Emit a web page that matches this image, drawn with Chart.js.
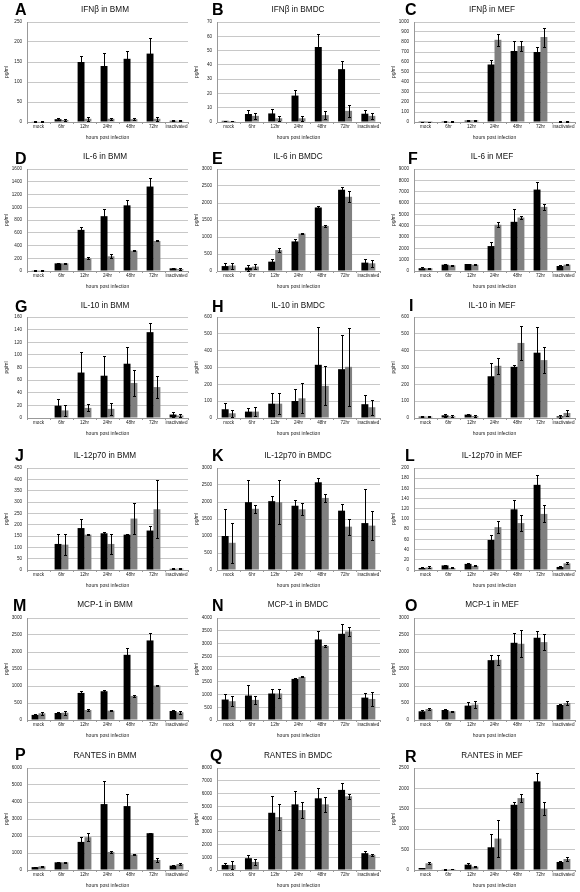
<!DOCTYPE html>
<html><head><meta charset="utf-8">
<script src="https://cdn.jsdelivr.net/npm/chart.js@4.4.0/dist/chart.umd.min.js"></script>
<style>
html,body{margin:0;padding:0;background:#fff;}
body{width:580px;height:892px;position:relative;overflow:hidden;font-family:"Liberation Sans",Arial,sans-serif;}
canvas{position:absolute;}
.letter{position:absolute;font-weight:bold;font-size:16px;line-height:16px;color:#000;}
.ttl{position:absolute;font-size:8.2px;line-height:8.2px;color:#111;transform:translateX(-50%);white-space:nowrap;}
</style></head><body>
<script>
const categories = ['mock','6hr','12hr','24hr','48hr','72hr','inactivated'];
const letters = ['A','B','C','D','E','F','G','H','I','J','K','L','M','N','O','P','Q','R'];
const titles = ['IFNβ in BMM','IFNβ in BMDC','IFNβ in MEF','IL-6 in BMM','IL-6 in BMDC','IL-6 in MEF',
  'IL-10 in BMM','IL-10 in BMDC','IL-10 in MEF','IL-12p70 in BMM','IL-12p70 in BMDC','IL-12p70 in MEF',
  'MCP-1 in BMM','MCP-1 in BMDC','MCP-1 in MEF','RANTES in BMM','RANTES in BMDC','RANTES in MEF'];
const yMax  = [250,70,1000, 1600,3000,9000, 160,600,600, 450,3000,200, 3000,4000,3000, 6000,8000,2500];
const yStep = [50,10,100, 200,500,1000, 20,100,100, 50,500,20, 500,500,500, 1000,1000,500];

const A_black=[1,7,150,140,158,171,3], A_blackErr=[0.5,2,15,33,20,40,1];
const A_gray=[1.5,5,8,8,7,8,3], A_grayErr=[0.3,2,5,2,2,5,1];
const B_black=[0.8,5.6,6,18.5,52.5,37,5.8], B_blackErr=[0.2,2.8,3,4,9,5.5,2.7];
const B_gray=[0.7,4.3,2.6,2.6,4.8,7.8,4.3], B_grayErr=[0.2,2,1.7,1.7,3,4.3,2];
const C_black=[2,8,14,575,710,700,5], C_blackErr=[1,3,4,45,100,55,2];
const C_gray=[1,6,16,822,760,850,7], C_grayErr=[1,3,5,60,45,95,3];
const D_black=[5,120,645,860,1030,1325,42], D_blackErr=[3,10,50,105,90,130,5];
const D_gray=[12,120,199,230,319,471,30], D_grayErr=[5,10,15,30,10,8,15];
const E_black=[145,100,275,870,1868,2390,246], E_blackErr=[90,90,80,80,50,90,120];
const E_gray=[160,130,615,1100,1327,2183,226], E_grayErr=[90,80,70,25,20,160,100];
const F_black=[250,560,620,2200,4340,7185,440], F_blackErr=[60,50,30,350,1100,700,50];
const F_gray=[240,500,560,4080,4720,5660,560], F_grayErr=[60,50,30,200,175,260,60];
const G_black=[0,19.5,72,67,86,136,5.5], G_blackErr=[0,11,32,32,27,14,4];
const G_gray=[0,12,16,14.5,55.5,49,4], G_grayErr=[0,9,5.5,10,20,18,3];
const H_black=[52,38,85,101,316,290,82], H_blackErr=[35,24,66,70,223,205,54];
const H_gray=[28,38,85,117,191,304,64], H_grayErr=[20,28,62,90,115,230,44];
const I_black=[8,16,20,248,304,388,10], I_blackErr=[4,8,5,78,10,152,8];
const I_gray=[8,10,12,310,446,344,30], I_grayErr=[5,5,4,46,100,76,20];
const J_black=[0,115,185,162,156,174,5], J_blackErr=[0,44,38,4,2,19,2];
const J_gray=[0,112,156,115,227,268,6], J_grayErr=[0,47,2,44,68,129,2];
const K_black=[1000,1995,2025,1890,2580,1745,1380], K_blackErr=[780,660,137,176,118,186,1000];
const K_gray=[800,1800,1995,1785,2120,1275,1305], K_grayErr=[595,117,650,176,118,235,430];
const L_black=[4,9,12,59,119,167,6], L_blackErr=[1,1.5,1,10.5,18,18.5,1];
const L_gray=[5,4,8,84,92,110,13], L_grayErr=[2,1,1,12,16,16.5,2];
const M_black=[150,206,796,846,1917,2340,265], M_blackErr=[40,20,50,50,200,225,20];
const M_gray=[197,216,295,275,708,1013,226], M_grayErr=[50,60,30,20,30,20,40];
const N_black=[803,960,1039,1612,3158,3381,878], N_blackErr=[223,408,158,30,315,367,170];
const N_gray=[737,789,1039,1690,2909,3473,826], N_grayErr=[197,158,158,20,50,170,262];
const O_black=[256,295,423,1760,2271,2419,442], O_blackErr=[30,20,108,148,295,206,40];
const O_gray=[324,256,452,1770,2242,2291,501], O_grayErr=[30,20,99,148,400,236,50];
const P_black=[170,452,1653,3878,3760,2165,256], P_blackErr=[30,30,315,1360,709,30,30];
const P_gray=[216,452,1929,1063,906,591,354], P_grayErr=[40,30,236,50,40,100,60];
const Q_black=[396,924,4488,5148,5623,6283,1320], Q_blackErr=[185,237,1320,1056,818,528,158];
const Q_gray=[396,634,4145,4699,5148,5782,1188], Q_grayErr=[290,264,1000,634,581,211,100];
const R_black=[49,16,131,557,1598,2172,197], R_blackErr=[10,5,49,320,66,205,30];
const R_gray=[164,25,82,770,1762,1500,270], R_grayErr=[25,10,20,450,107,164,40];

const seriesBlack=[A_black,B_black,C_black,D_black,E_black,F_black,G_black,H_black,I_black,J_black,K_black,L_black,M_black,N_black,O_black,P_black,Q_black,R_black];
const seriesBlackErr=[A_blackErr,B_blackErr,C_blackErr,D_blackErr,E_blackErr,F_blackErr,G_blackErr,H_blackErr,I_blackErr,J_blackErr,K_blackErr,L_blackErr,M_blackErr,N_blackErr,O_blackErr,P_blackErr,Q_blackErr,R_blackErr];
const seriesGray=[A_gray,B_gray,C_gray,D_gray,E_gray,F_gray,G_gray,H_gray,I_gray,J_gray,K_gray,L_gray,M_gray,N_gray,O_gray,P_gray,Q_gray,R_gray];
const seriesGrayErr=[A_grayErr,B_grayErr,C_grayErr,D_grayErr,E_grayErr,F_grayErr,G_grayErr,H_grayErr,I_grayErr,J_grayErr,K_grayErr,L_grayErr,M_grayErr,N_grayErr,O_grayErr,P_grayErr,Q_grayErr,R_grayErr];

// layout (pixels)
const colPlotLeft=[27,217,414], colPlotRight=[188,380,575];
const rowPlotTop=[22,169,317,468,618,768], rowPlotBottom=[122,271,418,570,720,870];
const letterPos=[[15,4],[212,4],[405,4],[15,153],[212,153],[408,153],[15,301],[212,301],[409,300],[15,450],[212,450],[405,450],[13,600],[212,600],[405,600],[15,749],[210,750],[405,751]];
const titleCx=[105,298,492];
const titleTop=[6,153,302,452,601,752];
const FONT='"Liberation Sans", Arial, sans-serif';

const errorBars={
  id:'errorBars',
  afterDatasetsDraw(chart){
    const ctx=chart.ctx, ys=chart.scales.y;
    ctx.save();
    ctx.strokeStyle='#000';
    ctx.lineWidth=1;
    chart.data.datasets.forEach((ds,i)=>{
      const meta=chart.getDatasetMeta(i);
      meta.data.forEach((el,j)=>{
        const v=ds.data[j], e=ds.errors[j];
        if(!e) return;
        const x=Math.round(el.x)+0.5;
        const yt=Math.round(ys.getPixelForValue(v+e))+0.5;
        const yb=Math.round(ys.getPixelForValue(Math.max(0,v-e)))+0.5;
        ctx.beginPath();
        ctx.moveTo(x,yt);ctx.lineTo(x,yb);
        ctx.moveTo(x-1.5,yt);ctx.lineTo(x+1.5,yt);
        ctx.moveTo(x-1.5,yb);ctx.lineTo(x+1.5,yb);
        ctx.stroke();
      });
    });
    ctx.restore();
  }
};

for(let p=0;p<18;p++){
  const col=p%3,row=Math.floor(p/3);
  const padTop=6,padRight=2,yW=27,xH=22;
  const left=colPlotLeft[col]-yW, top=rowPlotTop[row]-padTop;
  const width=colPlotRight[col]+padRight-left, height=rowPlotBottom[row]+xH-top;
  const cv=document.createElement('canvas');
  cv.width=width;cv.height=height;
  cv.style.left=left+'px';cv.style.top=top+'px';
  cv.style.width=width+'px';cv.style.height=height+'px';
  document.body.appendChild(cv);

  const lt=document.createElement('div');
  lt.className='letter';lt.textContent=letters[p];
  lt.style.left=letterPos[p][0]+'px';lt.style.top=(letterPos[p][1]-2)+'px';
  document.body.appendChild(lt);
  const tt=document.createElement('div');
  tt.className='ttl';tt.textContent=titles[p];
  tt.style.left=titleCx[col]+'px';tt.style.top=titleTop[row]+'px';
  document.body.appendChild(tt);

  new Chart(cv,{
    type:'bar',
    data:{labels:categories,datasets:[
      {data:seriesBlack[p],errors:seriesBlackErr[p],backgroundColor:'#000000',barPercentage:1,categoryPercentage:0.6},
      {data:seriesGray[p],errors:seriesGrayErr[p],backgroundColor:'#808080',barPercentage:1,categoryPercentage:0.6}
    ]},
    options:{
      responsive:false,animation:false,events:[],
      layout:{padding:{top:padTop,right:padRight,left:0,bottom:0}},
      plugins:{legend:{display:false},title:{display:false},tooltip:{enabled:false}},
      scales:{
        x:{
          grid:{display:true,drawOnChartArea:false,drawTicks:true,tickLength:2,tickColor:'#999'},
          border:{display:true,color:'#999'},
          ticks:{font:{size:4.6,family:FONT},color:'#222',padding:0,maxRotation:0,minRotation:0,autoSkip:false},
          title:{display:true,text:'hours post infection',font:{size:5,family:FONT},color:'#222',padding:{top:0,bottom:3}},
          afterFit(s){s.height=xH;s.paddingLeft=0;s.paddingRight=0;}
        },
        y:{
          min:0,max:yMax[p],
          ticks:{stepSize:yStep[p],font:{size:4.6,family:FONT},color:'#222',padding:5,callback:(v)=>String(v)},
          grid:{color:'#c8c8c8',drawTicks:false},
          border:{display:true,color:'#999'},
          title:{display:true,text:'pg/ml',font:{size:5,family:FONT},color:'#222',padding:{top:4,bottom:0}},
          afterFit(s){s.width=yW;s.paddingTop=0;s.paddingBottom=0;}
        }
      }
    },
    plugins:[errorBars]
  });
}
</script>
</body></html>
